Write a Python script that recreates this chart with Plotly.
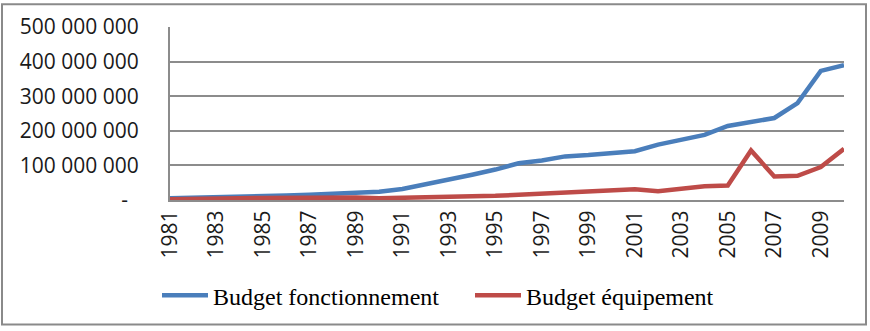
import plotly.graph_objects as go

years = list(range(1981, 2011))
budget_fonctionnement = [5, 6, 7, 9, 11, 13, 15, 17, 19, 24,
                         32, 45, 60, 73, 88, 106, 114, 126, 130, 135,
                         141, 160, 174, 188, 214, 224, 237, 280, 373, 390]
budget_equipement = [2, 2, 3, 5, 6, 7, 8, 8, 7, 5,
                     6, 8, 9, 10, 12, 15, 18, 20, 22, 25,
                     31, 25, 34, 40, 42, 143, 68, 70, 95, 148]
budget_fonctionnement = [v * 1e6 for v in budget_fonctionnement]
budget_equipement = [v * 1e6 for v in budget_equipement]

ytick_vals = [0, 100e6, 200e6, 300e6, 400e6, 500e6]
ytick_text = ["-\u00a0\u00a0", "100 000 000", "200 000 000", "300 000 000",
              "400 000 000", "500 000 000"]
xtick_vals = list(range(1981, 2011, 2))
xtick_text = [str(y) for y in xtick_vals]

W, H = 870, 331
L, R, T, B = 170, 26, 25, 131
pw, ph = W - L - R, H - T - B

fig = go.Figure()
fig.add_trace(go.Scatter(x=years, y=budget_fonctionnement, mode="lines",
                         name="Budget fonctionnement",
                         line=dict(color="#4A7EBB", width=4.5)))
fig.add_trace(go.Scatter(x=years, y=budget_equipement, mode="lines",
                         name="Budget équipement",
                         line=dict(color="#BE4B48", width=4.5)))

gridc = "#8C8C8C"
tf = dict(family="Open Sans", size=21, color="#1a1a1a")
fig.update_layout(
    width=W, height=H,
    margin=dict(l=L, r=R, t=T, b=B),
    paper_bgcolor="white", plot_bgcolor="white",
    font=tf,
    xaxis=dict(range=[1981, 2010], tickvals=xtick_vals, ticktext=xtick_text,
               tickangle=-90, showgrid=False, zeroline=False,
               showline=True, linecolor=gridc, linewidth=2,
               ticks="", ticklabelstandoff=0, tickfont=tf),
    yaxis=dict(range=[0, 500e6], tickvals=ytick_vals, ticktext=ytick_text,
               showgrid=True, gridcolor=gridc, gridwidth=2,
               zeroline=False, showline=True, linecolor=gridc, linewidth=2,
               ticks="", ticklabelstandoff=25, tickfont=tf),
    showlegend=True,
    legend=dict(orientation="h", x=(157 - L) / pw, xanchor="left",
                y=(T + ph - 274) / ph, yanchor="top",
                font=dict(family="Liberation Serif", size=24, color="black"),
                itemwidth=46, entrywidth=252, entrywidthmode="pixels",
                bgcolor="rgba(0,0,0,0)", tracegroupgap=0),
    shapes=[dict(type="rect", xref="paper", yref="paper",
                 x0=(2 - L) / pw, x1=(866 - L) / pw,
                 y0=(T + ph - 326) / ph, y1=(T + ph - 2) / ph,
                 line=dict(color="#8A8A8A", width=2), fillcolor="rgba(0,0,0,0)",
                 layer="below")],
)

fig.write_html("out.html")
